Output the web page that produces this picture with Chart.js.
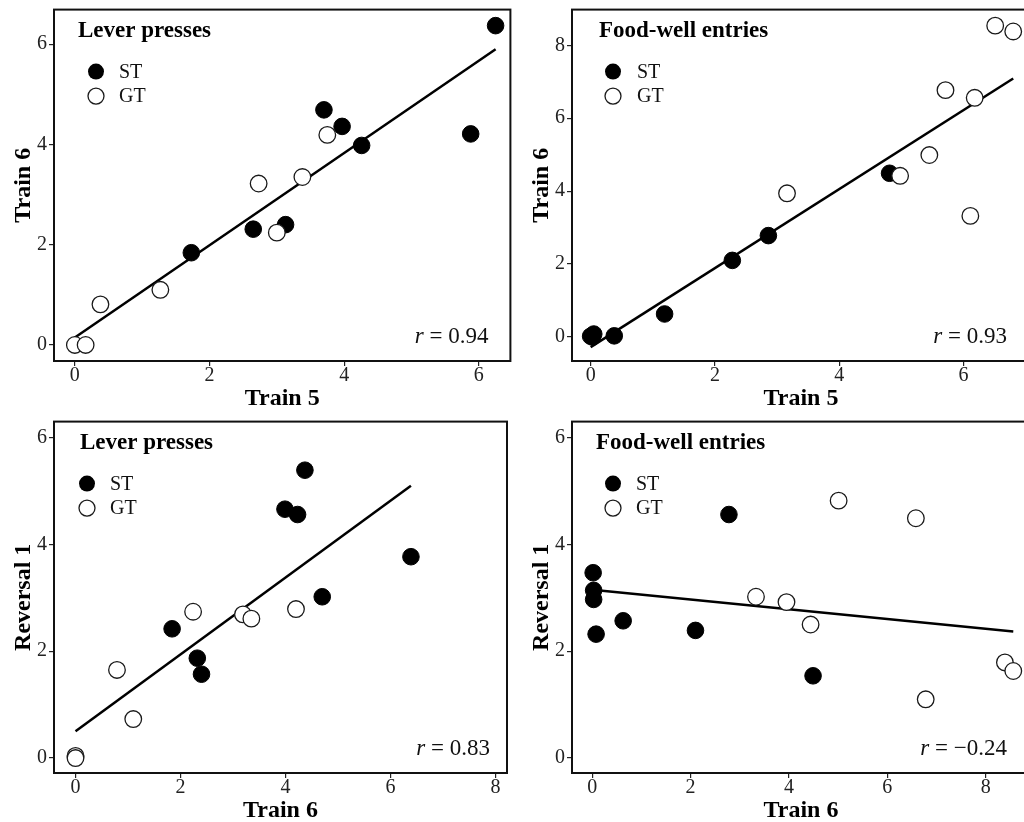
<!DOCTYPE html>
<html>
<head>
<meta charset="utf-8">
<title>Train / Reversal correlations</title>
<script src="https://cdn.jsdelivr.net/npm/chart.js@4.4.1/dist/chart.umd.min.js"></script>
<style>
    html, body { margin: 0; padding: 0; background: #fff; overflow: hidden; }
    #wrap { position: relative; width: 1024px; height: 822px; overflow: hidden; }
    canvas { position: absolute; }
</style>
</head>
<body>
<div id="wrap">
    <canvas id="c1" width="520" height="412" style="left:0;top:0;width:520px;height:412px"></canvas>
    <canvas id="c2" width="520" height="412" style="left:520px;top:0;width:520px;height:412px"></canvas>
    <canvas id="c3" width="520" height="420" style="left:0;top:412px;width:520px;height:420px"></canvas>
    <canvas id="c4" width="520" height="420" style="left:520px;top:412px;width:520px;height:420px"></canvas>
</div>
<script>
    "use strict";

    // Groups and tick values
    const groupLabels = ["ST", "GT"];
    const ticks0to6 = [0, 2, 4, 6];
    const ticks0to8 = [0, 2, 4, 6, 8];

    // Lever presses: Train 5 (x) vs Train 6 (y)
    const lever56_stX = [6.25, 3.70, 3.97, 4.26, 5.88, 2.65, 3.13, 1.73];
    const lever56_stY = [6.37, 4.69, 4.36, 3.98, 4.21, 2.31, 2.40, 1.84];
    const lever56_gtX = [3.75, 3.38, 2.73, 3.00, 1.27, 0.38, 0.00, 0.16];
    const lever56_gtY = [4.19, 3.35, 3.22, 2.24, 1.10, 0.81, 0.00, 0.00];
    const lever56_fitX = [0, 6.25];
    const lever56_fitY = [0.15, 5.90];

    // Food-well entries: Train 5 (x) vs Train 6 (y)
    const food56_stX = [0.00, 0.03, 0.05, 0.38, 1.19, 2.28, 2.86, 4.81];
    const food56_stY = [0.02, 0.00, 0.08, 0.03, 0.63, 2.10, 2.78, 4.49];
    const food56_gtX = [6.51, 6.80, 5.71, 6.18, 5.45, 4.98, 3.16, 6.11];
    const food56_gtY = [8.54, 8.38, 6.77, 6.56, 4.99, 4.42, 3.94, 3.32];
    const food56_fitX = [0, 6.80];
    const food56_fitY = [-0.28, 7.09];

    // Lever presses: Train 6 (x) vs Reversal 1 (y)
    const leverRev_stX = [4.37, 3.99, 4.23, 6.39, 4.70, 1.84, 2.32, 2.40];
    const leverRev_stY = [5.39, 4.66, 4.56, 3.77, 3.02, 2.42, 1.87, 1.57];
    const leverRev_gtX = [2.24, 3.19, 3.35, 4.20, 0.79, 1.10, 0.00, 0.00];
    const leverRev_gtY = [2.74, 2.69, 2.61, 2.79, 1.65, 0.73, 0.04, 0.00];
    const leverRev_fitX = [0, 6.39];
    const leverRev_fitY = [0.50, 5.10];

    // Food-well entries: Train 6 (x) vs Reversal 1 (y)
    const foodRev_stX = [0.02, 0.03, 0.03, 0.08, 0.63, 2.10, 2.78, 4.49];
    const foodRev_stY = [3.47, 3.14, 2.97, 2.32, 2.57, 2.39, 4.56, 1.54];
    const foodRev_gtX = [5.01, 6.58, 3.33, 3.95, 4.44, 8.39, 8.56, 6.78];
    const foodRev_gtY = [4.82, 4.49, 3.02, 2.92, 2.50, 1.79, 1.63, 1.10];
    const foodRev_fitX = [0, 8.56];
    const foodRev_fitY = [3.15, 2.37];

    const rValues = ["0.94", "0.93", "0.83", "\u22120.24"];

    const serif = '"Liberation Serif", "Times New Roman", serif';

    function toXY(xs, ys) {
        return xs.map(function (x, i) { return {x: x, y: ys[i]}; });
    }

    // Box, panel title, legend and r label drawn inside the plot area
    const panelDeco = {
        id: 'panelDeco',
        afterDatasetsDraw: function (chart, args, o) {
            const ctx = chart.ctx;
            const a = chart.chartArea;
            ctx.save();

            ctx.strokeStyle = '#111';
            ctx.lineWidth = 2;
            ctx.strokeRect(a.left, a.top, a.right - a.left, a.bottom - a.top);

            ctx.fillStyle = '#000';
            ctx.textAlign = 'left';
            ctx.textBaseline = 'alphabetic';
            ctx.font = 'bold 23px ' + serif;
            ctx.fillText(o.title, a.left + o.titleDx, a.top + 27);

            // legend
            ctx.font = '20px ' + serif;
            ctx.textBaseline = 'middle';
            groupLabels.forEach(function (lab, i) {
                const cx = a.left + o.legendDx;
                const cy = a.top + 62 + i * 24.5;
                ctx.beginPath();
                ctx.arc(cx, cy, 8, 0, Math.PI * 2);
                if (lab === 'ST') {
                    ctx.fillStyle = '#000';
                    ctx.fill();
                } else {
                    ctx.fillStyle = '#fff';
                    ctx.fill();
                    ctx.lineWidth = 1.3;
                    ctx.strokeStyle = '#1a1a1a';
                    ctx.stroke();
                }
                ctx.fillStyle = '#111';
                ctx.fillText(lab, cx + o.legendTextDx, cy + 1);
            });

            // r = ...
            ctx.textBaseline = 'alphabetic';
            ctx.textAlign = 'right';
            ctx.font = '23px ' + serif;
            const rest = ' = ' + o.r;
            const rx = a.right - o.rDx;
            const ry = a.bottom - 18;
            ctx.fillText(rest, rx, ry);
            const w = ctx.measureText(rest).width;
            ctx.font = 'italic 23px ' + serif;
            ctx.fillText('r', rx - w, ry);

            ctx.restore();
        }
    };

    function makePanel(id, p) {
        const tickGrid = {
            drawOnChartArea: false,
            drawTicks: true,
            tickLength: 5,
            tickColor: '#222',
            tickWidth: 1.2,
            lineWidth: 1.2
        };
        new Chart(document.getElementById(id), {
            type: 'scatter',
            data: {
                datasets: [{
                    label: 'GT',
                    data: toXY(p.gtX, p.gtY),
                    order: 0,
                    pointRadius: 8.3,
                    pointHoverRadius: 8.3,
                    backgroundColor: '#fff',
                    borderColor: '#1a1a1a',
                    borderWidth: 1.3
                },
                {
                    label: 'ST',
                    data: toXY(p.stX, p.stY),
                    order: 1,
                    pointRadius: 8.3,
                    pointHoverRadius: 8.3,
                    backgroundColor: '#000',
                    borderColor: '#000',
                    borderWidth: 1
                },
                {
                    label: 'fit',
                    data: toXY(p.fitX, p.fitY),
                    order: 2,
                    showLine: true,
                    pointRadius: 0,
                    borderColor: '#000',
                    borderWidth: 2.5,
                    fill: false
                }]
            },
            options: {
                responsive: false,
                animation: false,
                events: [],
                layout: { padding: p.pad },
                plugins: {
                    legend: { display: false },
                    tooltip: { enabled: false },
                    panelDeco: p.deco
                },
                scales: {
                    x: {
                        type: 'linear',
                        min: p.xMin,
                        max: p.xMax,
                        afterFit: function (s) {
                            s.height = p.xH;
                            s.paddingLeft = 0;
                            s.paddingRight = 0;
                        },
                        afterBuildTicks: function (s) { s.ticks = p.xTicks.map(function (v) { return {value: v}; }); },
                        grid: tickGrid,
                        border: { display: false },
                        ticks: {
                            font: { family: serif, size: 20, lineHeight: 1 },
                            color: '#222',
                            padding: 0,
                            maxRotation: 0,
                            autoSkip: false
                        },
                        title: {
                            display: true,
                            text: p.xTitle,
                            color: '#000',
                            font: { family: serif, size: 24, weight: 'bold', lineHeight: 1 },
                            padding: { top: 0, bottom: p.xTitlePb }
                        }
                    },
                    y: {
                        type: 'linear',
                        min: p.yMin,
                        max: p.yMax,
                        afterFit: function (s) {
                            s.width = p.yW;
                            s.paddingTop = 0;
                            s.paddingBottom = 0;
                        },
                        afterBuildTicks: function (s) { s.ticks = p.yTicks.map(function (v) { return {value: v}; }); },
                        grid: tickGrid,
                        border: { display: false },
                        ticks: {
                            font: { family: serif, size: 20, lineHeight: 1 },
                            color: '#222',
                            padding: 2,
                            autoSkip: false
                        },
                        title: {
                            display: true,
                            text: p.yTitle,
                            color: '#000',
                            font: { family: serif, size: 24, weight: 'bold', lineHeight: 1 },
                            padding: { top: p.yTitlePt, bottom: 0 }
                        }
                    }
                }
            },
            plugins: [panelDeco]
        });
    }

    makePanel('c1', {
        stX: lever56_stX, stY: lever56_stY, gtX: lever56_gtX, gtY: lever56_gtY,
        fitX: lever56_fitX, fitY: lever56_fitY,
        xMin: -0.31, xMax: 6.47, yMin: -0.32, yMax: 6.69,
        xTicks: ticks0to6, yTicks: ticks0to6,
        xTitle: 'Train 5', yTitle: 'Train 6',
        pad: { left: 0, top: 6, right: 8, bottom: 0 }, xH: 51, yW: 54, xTitlePb: 1, yTitlePt: 12,
        deco: { title: 'Lever presses', titleDx: 24, legendDx: 42, legendTextDx: 23, r: rValues[0], rDx: 22 }
    });

    makePanel('c2', {
        stX: food56_stX, stY: food56_stY, gtX: food56_gtX, gtY: food56_gtY,
        fitX: food56_fitX, fitY: food56_fitY,
        xMin: -0.30, xMax: 7.07, yMin: -0.66, yMax: 8.98,
        xTicks: ticks0to6, yTicks: ticks0to8,
        xTitle: 'Train 5', yTitle: 'Train 6',
        pad: { left: 0, top: 6, right: 10, bottom: 0 }, xH: 51, yW: 52, xTitlePb: 1, yTitlePt: 10,
        deco: { title: 'Food-well entries', titleDx: 27, legendDx: 41, legendTextDx: 24, r: rValues[1], rDx: 23 }
    });

    makePanel('c3', {
        stX: leverRev_stX, stY: leverRev_stY, gtX: leverRev_gtX, gtY: leverRev_gtY,
        fitX: leverRev_fitX, fitY: leverRev_fitY,
        xMin: -0.41, xMax: 8.22, yMin: -0.28, yMax: 6.30,
        xTicks: ticks0to8, yTicks: ticks0to6,
        xTitle: 'Train 6', yTitle: 'Reversal 1',
        pad: { left: 0, top: 7.5, right: 13, bottom: 0 }, xH: 59, yW: 54, xTitlePb: 9, yTitlePt: 12,
        deco: { title: 'Lever presses', titleDx: 26, legendDx: 33, legendTextDx: 23, r: rValues[2], rDx: 17 }
    });

    makePanel('c4', {
        stX: foodRev_stX, stY: foodRev_stY, gtX: foodRev_gtX, gtY: foodRev_gtY,
        fitX: foodRev_fitX, fitY: foodRev_fitY,
        xMin: -0.41, xMax: 8.90, yMin: -0.28, yMax: 6.30,
        xTicks: ticks0to8, yTicks: ticks0to6,
        xTitle: 'Train 6', yTitle: 'Reversal 1',
        pad: { left: 0, top: 7.5, right: 10, bottom: 0 }, xH: 59, yW: 52, xTitlePb: 9, yTitlePt: 10,
        deco: { title: 'Food-well entries', titleDx: 24, legendDx: 41, legendTextDx: 23, r: rValues[3], rDx: 23 }
    });
</script>
</body>
</html>
